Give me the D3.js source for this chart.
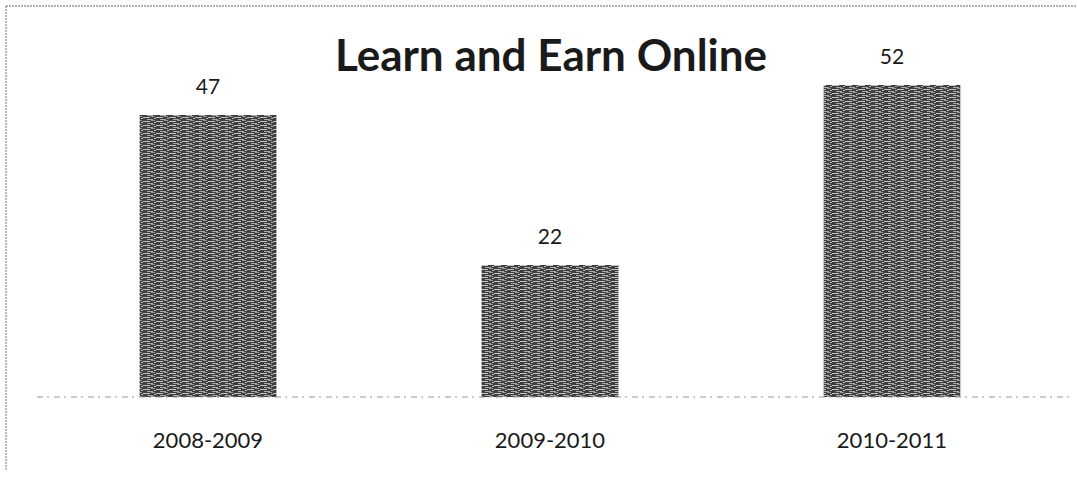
<!DOCTYPE html>
<html lang="en">
<head>
  <meta charset="UTF-8">
  <title>Learn and Earn Online</title>
  <script src="https://cdn.jsdelivr.net/npm/d3@7"></script>
  <style>
    body { margin: 0; background: #fff; }
    text { font-family: Lato, "Open Sans", sans-serif; fill: #1a1a1a; }
  </style>
</head>
<body>
  <svg id="chart" width="1077" height="479"></svg>
  <script>
    const categories = ['2008-2009', '2009-2010', '2010-2011'];
    const values = [47, 22, 52];
    const title = 'Learn and Earn Online';

    const svg = d3.select('#chart');
    const width = 1077, height = 479;
    const margin = { left: 37, right: 14, top: 85, bottom: 82 };

    // streaky grey texture for the bars (scanned look)
    const defs = svg.append('defs');
    const pat = defs.append('pattern')
      .attr('id', 'hatch')
      .attr('patternUnits', 'userSpaceOnUse')
      .attr('width', 13).attr('height', 4);
    pat.append('rect').attr('width', 13).attr('height', 4).attr('fill', '#3e3e3e');
    pat.append('rect').attr('x', 0).attr('y', 1).attr('width', 7).attr('height', 1).attr('fill', '#c4c4c4');
    pat.append('rect').attr('x', 8).attr('y', 0).attr('width', 4).attr('height', 1).attr('fill', '#9a9a9a');
    pat.append('rect').attr('x', 4).attr('y', 3).attr('width', 6).attr('height', 1).attr('fill', '#aaaaaa');
    pat.append('rect').attr('x', 11).attr('y', 2).attr('width', 2).attr('height', 1).attr('fill', '#bdbdbd');

    // outer frame (dotted, top and left visible)
    svg.append('line').attr('x1', 6).attr('x2', width).attr('y1', 6).attr('y2', 6)
      .attr('stroke', '#666').attr('stroke-width', 1).attr('stroke-dasharray', '2,1');
    svg.append('line').attr('x1', 6).attr('x2', 6).attr('y1', 6).attr('y2', 470)
      .attr('stroke', '#777').attr('stroke-width', 1).attr('stroke-dasharray', '2,1');

    const x = d3.scaleBand()
      .domain(categories)
      .range([margin.left, width - margin.right])
      .paddingInner(0.6).paddingOuter(0.3);

    const y = d3.scaleLinear()
      .domain([0, 52])
      .range([height - margin.bottom, margin.top]);

    svg.append('g').selectAll('rect')
      .data(values)
      .enter()
      .append('rect')
      .attr('x', (d, i) => x(categories[i]))
      .attr('y', d => y(d))
      .attr('width', x.bandwidth())
      .attr('height', d => y(0) - y(d))
      .attr('fill', 'url(#hatch)');

    // baseline
    svg.append('line')
      .attr('x1', margin.left).attr('x2', width - 8)
      .attr('y1', y(0)).attr('y2', y(0))
      .attr('stroke', '#999').attr('stroke-width', 1).attr('stroke-dasharray', '6,4,2,5');

    // value labels
    svg.append('g').selectAll('text')
      .data(values)
      .enter()
      .append('text')
      .attr('x', (d, i) => x(categories[i]) + x.bandwidth() / 2)
      .attr('y', d => y(d) - 21)
      .attr('text-anchor', 'middle')
      .attr('font-size', '21px')
      .text(d => d);

    // category labels
    svg.append('g').selectAll('text')
      .data(categories)
      .enter()
      .append('text')
      .attr('x', d => x(d) + x.bandwidth() / 2)
      .attr('y', 448)
      .attr('text-anchor', 'middle')
      .attr('font-size', '22px')
      .text(d => d);

    const t = svg.append('text')
      .attr('x', 551)
      .attr('y', 71)
      .attr('text-anchor', 'middle')
      .attr('font-size', '40px')
      .attr('font-weight', 'bold')
      .text(title);
    // fit title to the width it has in the original (~432px)
    const w = t.node().getComputedTextLength();
    t.attr('font-size', (40 * 432 / w).toFixed(1) + 'px');
  </script>
</body>
</html>
